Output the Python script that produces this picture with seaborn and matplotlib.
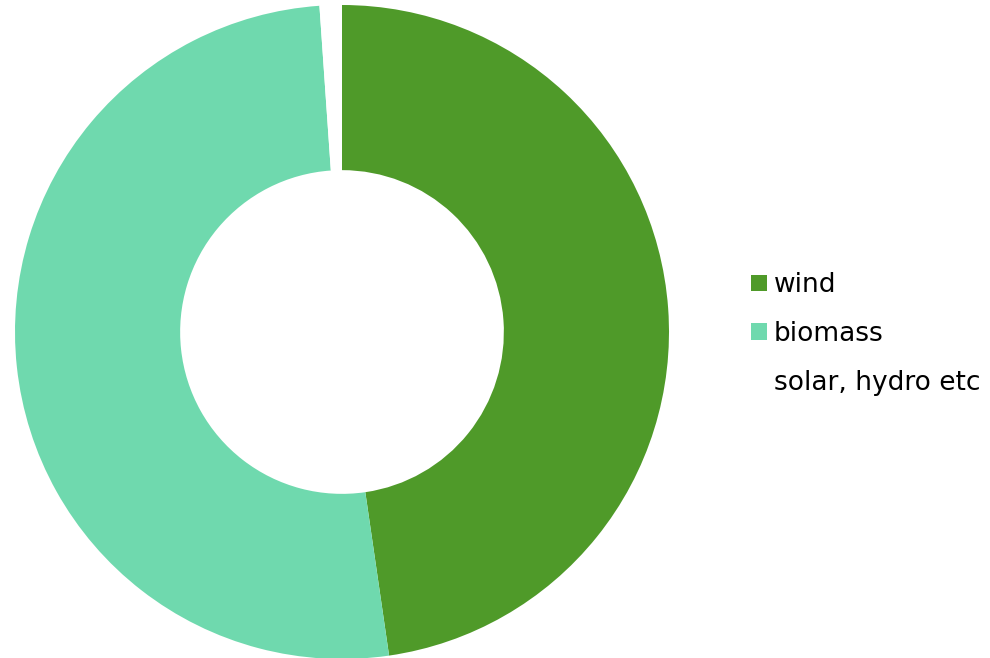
import seaborn as sns
import matplotlib.pyplot as plt
from matplotlib.patches import Patch

sources = ["wind", "biomass", "solar, hydro etc"]
shares = [47.7, 51.2, 1.1]
colors = ["#4f9a29", "#6fd9ae", "#ffffff"]

sns.set_theme(style="white")
plt.rcParams["font.family"] = ["DejaVu Sans"]

fig = plt.figure(figsize=(9.9, 6.58), dpi=100)
ax = fig.add_axes([15 / 990, -1 / 658, 654 / 990, 654 / 658])

ax.pie(shares, colors=colors, startangle=90, counterclock=False,
       radius=1.0, wedgeprops=dict(width=0.505, edgecolor="none"))
ax.set_aspect("equal")
ax.set_xlim(-1, 1)
ax.set_ylim(-1, 1)
ax.axis("off")

handles = [Patch(facecolor=c, edgecolor="none") for c in colors]
fig.legend(handles, sources, loc="center left", bbox_to_anchor=(751 / 990, 1 - 334 / 658),
           frameon=False, fontsize=19, labelcolor="black", handlelength=0.6, handleheight=0.6,
           handletextpad=0.27, labelspacing=0.86, borderpad=0, borderaxespad=0)

plt.savefig("out.png", dpi=100)
